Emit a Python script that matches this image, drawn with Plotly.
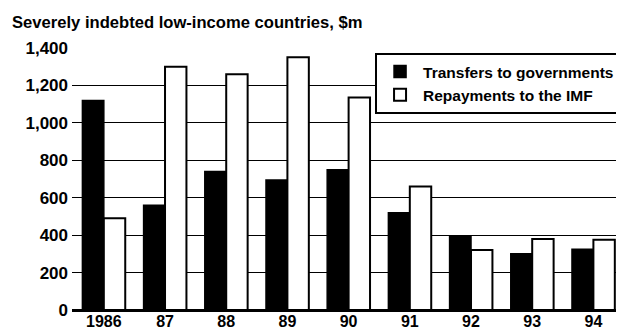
import plotly.graph_objects as go

years = ["1986", "87", "88", "89", "90", "91", "92", "93", "94"]
transfers = [1120, 560, 740, 695, 750, 520, 395, 300, 325]
repayments = [490, 1300, 1260, 1350, 1135, 660, 320, 380, 375]
y_ticks = [0, 200, 400, 600, 800, 1000, 1200, 1400]
y_tick_text = ["0", "200", "400", "600", "800", "1,000", "1,200", "1,400"]

FONT = "Liberation Sans, Arial, sans-serif"

# page body has an 8px default margin, so the figure is 8px smaller than the window
fig = go.Figure()
fig.add_trace(go.Bar(
    x=years, y=transfers, name="Transfers to governments",
    marker=dict(color="black", line=dict(color="black", width=1.5)),
))
fig.add_trace(go.Bar(
    x=years, y=repayments, name="Repayments to the IMF",
    marker=dict(color="white", line=dict(color="black", width=2)),
))

fig.update_layout(
    width=616, height=321,
    margin=dict(l=64, r=0, t=40, b=19),
    paper_bgcolor="white", plot_bgcolor="white",
    barmode="group", bargap=0.3, bargroupgap=0,
    showlegend=True,
    legend=dict(
        x=0.549, y=0.981, xanchor="left", yanchor="top",
        bgcolor="white", bordercolor="black", borderwidth=2,
        font=dict(family=FONT, size=15.5, color="black", weight="bold"),
        itemwidth=36, tracegroupgap=0,
    ),
    annotations=[dict(
        text="Severely indebted low-income countries, $m",
        xref="paper", yref="paper", x=-62/552, y=1, xanchor="left", yanchor="bottom",
        yshift=14, showarrow=False,
        font=dict(family=FONT, size=16.6, color="black", weight="bold"),
    )],
    font=dict(family=FONT, color="black"),
)
fig.update_xaxes(
    type="category", range=[-0.52, 8.5], automargin=False,
    showgrid=False, showline=False, ticks="",
    tickfont=dict(family=FONT, size=16, color="black", weight="bold"),
)
fig.update_yaxes(
    range=[0, 1400], tickvals=y_ticks, ticktext=y_tick_text, automargin=False,
    showgrid=True, gridcolor="black", gridwidth=1.2,
    zeroline=True, zerolinecolor="black", zerolinewidth=2.5,
    showline=False, ticks="", ticklabelstandoff=3,
    tickfont=dict(family=FONT, size=17, color="black", weight="bold"),
)

fig.write_html("out.html")
